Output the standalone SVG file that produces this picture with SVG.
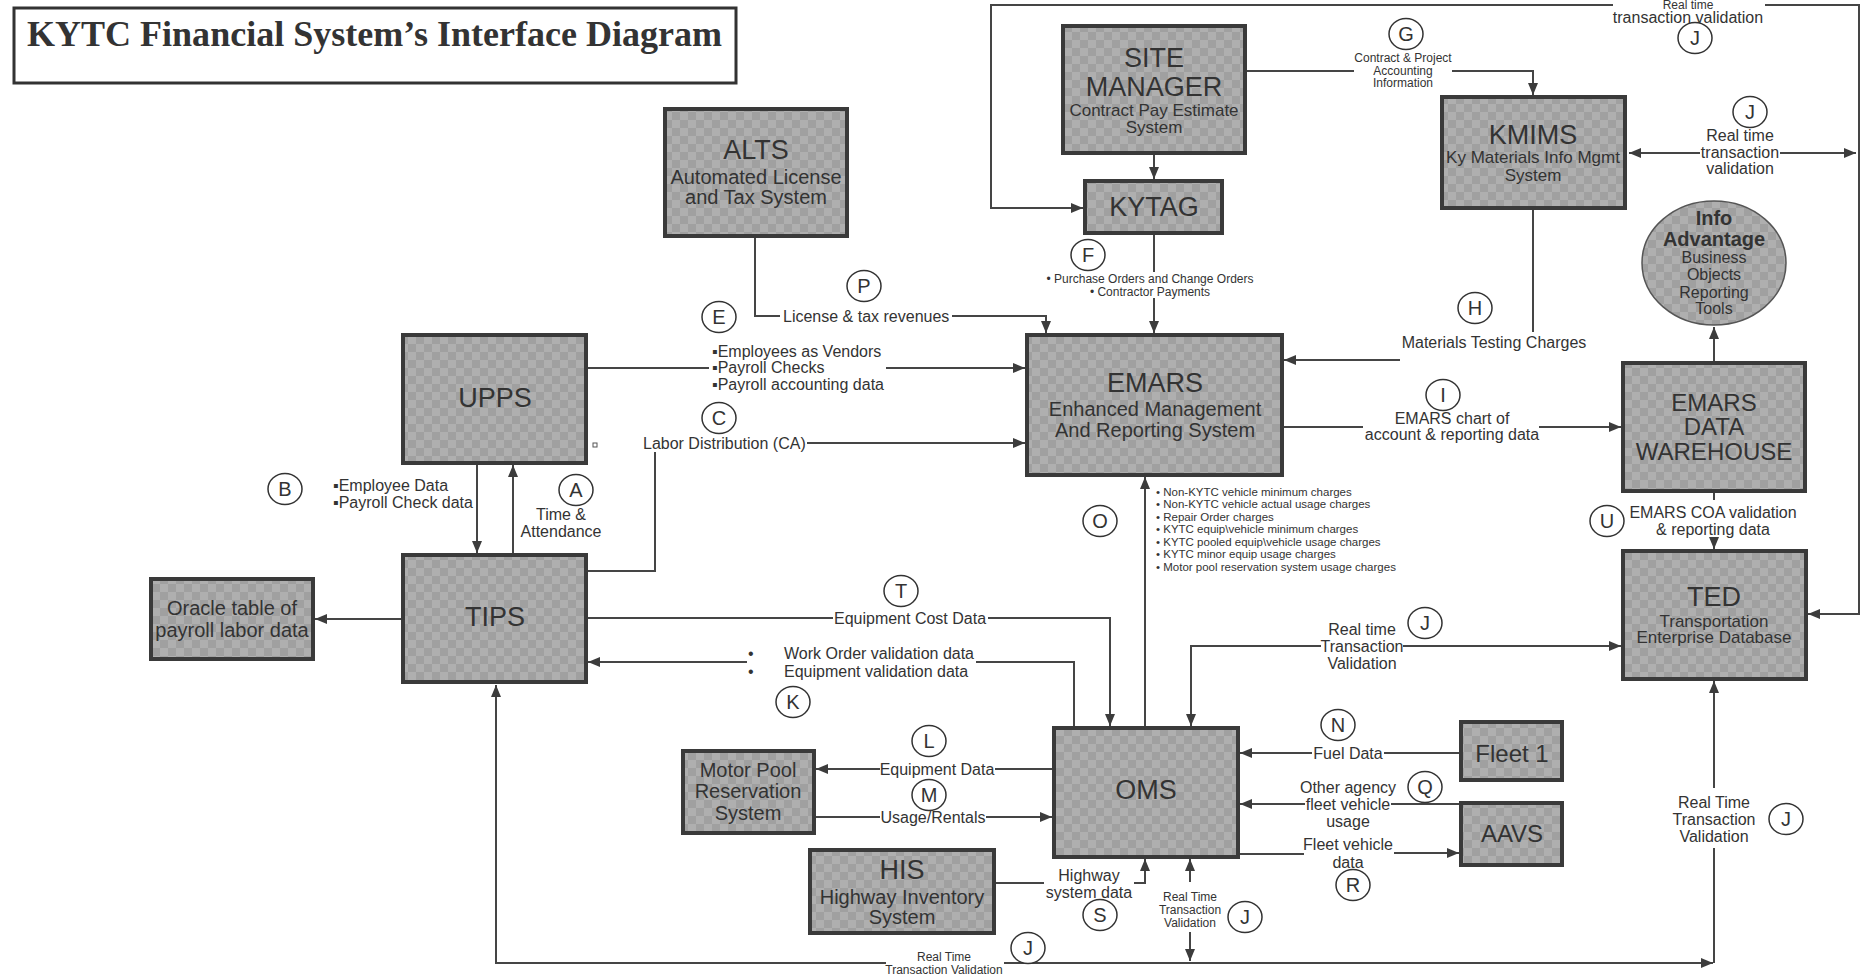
<svg xmlns="http://www.w3.org/2000/svg" width="1868" height="979" viewBox="0 0 1868 979">
<defs>
<pattern id="chk" width="16" height="16" patternUnits="userSpaceOnUse">
<rect width="16" height="16" fill="#afafaf"/>
<rect width="8" height="8" fill="#a0a0a0"/>
<rect x="8" y="8" width="8" height="8" fill="#a0a0a0"/>
</pattern>
<marker id="ah" viewBox="0 0 12 10" refX="12" refY="5" markerWidth="12" markerHeight="10" markerUnits="userSpaceOnUse" orient="auto-start-reverse">
<path d="M0,0 L12,5 L0,10 z" fill="#3c3c3c"/>
</marker>
<style>
.box{fill:url(#chk);stroke:#3a3a3a;stroke-width:4}
.ell{fill:url(#chk);stroke:#555;stroke-width:1.5}
.ln{fill:none;stroke:#454545;stroke-width:2}
.ar{fill:none;stroke:#454545;stroke-width:2;marker-end:url(#ah)}
.cir{fill:#fff;stroke:#333;stroke-width:1.5}
text{font-family:"Liberation Sans",Arial,sans-serif;fill:#333;dominant-baseline:central}
.c{text-anchor:middle}
.t1{font-size:27px}
.t2{font-size:24px}
.t3{font-size:20px}
.t4{font-size:17px}
.l16{font-size:16px}
.l12{font-size:12px}
.l11{font-size:11.5px}
.lt{font-size:20px;text-anchor:middle}
.b{font-weight:bold}
</style>
</defs>
<rect width="1868" height="979" fill="#fff"/>

<g id="title">
<rect x="14" y="8" width="722" height="75" fill="#fff" stroke="#333" stroke-width="3"/>
<text x="27" y="34" style="font-family:'Liberation Serif','Times New Roman',serif;font-weight:bold;font-size:35px" textLength="695" lengthAdjust="spacingAndGlyphs">KYTC Financial System’s Interface Diagram</text>
</g>

<g id="connectors">
<path class="ar" d="M1613,5 H991 V208 H1083"/>
<path class="ar" d="M1765,5 H1859 V614 H1808"/>
<path class="ln" d="M1700,153 H1629" style="marker-end:url(#ah)"/>
<path class="ar" d="M1780,153 H1856"/>
<path class="ar" d="M1154,153 V179"/>
<path class="ln" d="M1245,71 H1354"/>
<path class="ar" d="M1452,71 H1533 V95"/>
<path class="ln" d="M1154,233 V272"/>
<path class="ar" d="M1154,298 V333"/>
<path class="ln" d="M755,236 V316 H780"/>
<path class="ar" d="M952,316 H1046 V333"/>
<path class="ln" d="M586,368 H709"/>
<path class="ar" d="M886,368 H1025"/>
<path class="ln" d="M586,571 H655 V452"/>
<path class="ar" d="M807,443 H1025"/>
<path class="ar" d="M477,463 V553"/>
<path class="ar" d="M513,555 V465"/>
<path class="ar" d="M403,619 H315"/>
<path class="ln" d="M586,618 H833"/>
<path class="ar" d="M988,618 H1110 V726"/>
<path class="ln" d="M1074,728 V662 H976"/>
<path class="ar" d="M747,662 H588"/>
<path class="ar" d="M1145,728 V477"/>
<path class="ar" d="M1321,646 H1191 V726"/>
<path class="ar" d="M1403,646 H1621"/>
<path class="ln" d="M1461,753 H1384"/>
<path class="ar" d="M1312,753 H1240"/>
<path class="ln" d="M1461,804 H1391"/>
<path class="ar" d="M1305,804 H1240"/>
<path class="ln" d="M1238,854 H1304"/>
<path class="ar" d="M1394,853 H1459"/>
<path class="ln" d="M1054,769 H995"/>
<path class="ar" d="M880,769 H816"/>
<path class="ln" d="M814,817 H880"/>
<path class="ar" d="M986,817 H1052"/>
<path class="ln" d="M994,883 H1044"/>
<path class="ar" d="M1134,883 H1145 V859"/>
<path class="ar" d="M1190,882 V859"/>
<path class="ar" d="M1190,932 V961"/>
<path class="ar" d="M886,963 H496 V685"/>
<path class="ar" d="M1004,963 H1713"/>
<path class="ln" d="M1714,963 V848"/>
<path class="ar" d="M1714,788 V681"/>
<path class="ar" d="M1714,363 V327"/>
<path class="ln" d="M1282,427 H1363"/>
<path class="ar" d="M1539,427 H1621"/>
<path class="ln" d="M1533,208 V332"/>
<path class="ar" d="M1400,360 H1284"/>
<path class="ln" d="M1714,491 V500"/>
<path class="ar" d="M1714,538 V549"/>
<rect x="593" y="443" width="4" height="4" fill="none" stroke="#555" stroke-width="1"/>
</g>

<g id="labels">
<text class="l12 c" x="1688" y="5">Real time</text>
<text class="l16 c" x="1688" y="17">transaction validation</text>
<text class="l12 c" x="1403" y="58">Contract &amp; Project</text>
<text class="l12 c" x="1403" y="71">Accounting</text>
<text class="l12 c" x="1403" y="83">Information</text>
<text class="l16 c" x="1740" y="135">Real time</text>
<text class="l16 c" x="1740" y="152">transaction</text>
<text class="l16 c" x="1740" y="168">validation</text>
<text class="l12 c" x="1150" y="279">• Purchase Orders and Change Orders</text>
<text class="l12 c" x="1150" y="292">• Contractor Payments</text>
<text class="l16" x="783" y="316">License &amp; tax revenues</text>
<text class="l16" x="712" y="351">▪Employees as Vendors</text>
<text class="l16" x="712" y="367">▪Payroll Checks</text>
<text class="l16" x="712" y="384">▪Payroll accounting data</text>
<text class="l16 c" x="1494" y="342">Materials Testing Charges</text>
<text class="l16" x="643" y="443">Labor Distribution (CA)</text>
<text class="l16 c" x="1452" y="418">EMARS chart of</text>
<text class="l16 c" x="1452" y="434">account &amp; reporting data</text>
<text class="l16" x="333" y="485">▪Employee Data</text>
<text class="l16" x="333" y="502">▪Payroll Check data</text>
<text class="l16 c" x="561" y="514">Time &amp;</text>
<text class="l16 c" x="561" y="531">Attendance</text>
<text class="l11" x="1156" y="492">• Non-KYTC vehicle minimum charges</text>
<text class="l11" x="1156" y="504">• Non-KYTC vehicle actual usage charges</text>
<text class="l11" x="1156" y="517">• Repair Order charges</text>
<text class="l11" x="1156" y="529">• KYTC equip\vehicle minimum charges</text>
<text class="l11" x="1156" y="542">• KYTC pooled equip\vehicle usage charges</text>
<text class="l11" x="1156" y="554">• KYTC minor equip usage charges</text>
<text class="l11" x="1156" y="567">• Motor pool reservation system usage charges</text>
<text class="l16 c" x="1713" y="512">EMARS COA validation</text>
<text class="l16 c" x="1713" y="529">&amp; reporting data</text>
<text class="l16 c" x="910" y="618">Equipment Cost Data</text>
<text class="l16" x="748" y="653">•</text>
<text class="l16" x="748" y="671">•</text>
<text class="l16" x="784" y="653">Work Order validation data</text>
<text class="l16" x="784" y="671">Equipment validation data</text>
<text class="l16 c" x="1362" y="629">Real time</text>
<text class="l16 c" x="1362" y="646">Transaction</text>
<text class="l16 c" x="1362" y="663">Validation</text>
<text class="l16 c" x="937" y="769">Equipment Data</text>
<text class="l16 c" x="1348" y="753">Fuel Data</text>
<text class="l16 c" x="1348" y="787">Other agency</text>
<text class="l16 c" x="1348" y="804">fleet vehicle</text>
<text class="l16 c" x="1348" y="821">usage</text>
<text class="l16 c" x="933" y="817">Usage/Rentals</text>
<text class="l16 c" x="1714" y="802">Real Time</text>
<text class="l16 c" x="1714" y="819">Transaction</text>
<text class="l16 c" x="1714" y="836">Validation</text>
<text class="l16 c" x="1348" y="844">Fleet vehicle</text>
<text class="l16 c" x="1348" y="862">data</text>
<text class="l16 c" x="1089" y="875">Highway</text>
<text class="l16 c" x="1089" y="892">system data</text>
<text class="l12 c" x="1190" y="897">Real Time</text>
<text class="l12 c" x="1190" y="910">Transaction</text>
<text class="l12 c" x="1190" y="923">Validation</text>
<text class="l12 c" x="944" y="957">Real Time</text>
<text class="l12 c" x="944" y="970">Transaction Validation</text>
</g>

<g id="markers">
<ellipse class="cir" cx="1695" cy="38" rx="17" ry="15.5"/><text class="lt" x="1695" y="38">J</text>
<ellipse class="cir" cx="1406" cy="34" rx="17" ry="15.5"/><text class="lt" x="1406" y="34">G</text>
<ellipse class="cir" cx="1750" cy="112" rx="17" ry="15.5"/><text class="lt" x="1750" y="112">J</text>
<ellipse class="cir" cx="1088" cy="255" rx="17" ry="15.5"/><text class="lt" x="1088" y="255">F</text>
<ellipse class="cir" cx="864" cy="286" rx="17" ry="15.5"/><text class="lt" x="864" y="286">P</text>
<ellipse class="cir" cx="719" cy="317" rx="17" ry="15.5"/><text class="lt" x="719" y="317">E</text>
<ellipse class="cir" cx="1475" cy="308" rx="17" ry="15.5"/><text class="lt" x="1475" y="308">H</text>
<ellipse class="cir" cx="719" cy="418" rx="17" ry="15.5"/><text class="lt" x="719" y="418">C</text>
<ellipse class="cir" cx="1443" cy="395" rx="17" ry="15.5"/><text class="lt" x="1443" y="395">I</text>
<ellipse class="cir" cx="285" cy="489" rx="17" ry="15.5"/><text class="lt" x="285" y="489">B</text>
<ellipse class="cir" cx="576" cy="490" rx="17" ry="15.5"/><text class="lt" x="576" y="490">A</text>
<ellipse class="cir" cx="1100" cy="521" rx="17" ry="15.5"/><text class="lt" x="1100" y="521">O</text>
<ellipse class="cir" cx="1607" cy="521" rx="17" ry="15.5"/><text class="lt" x="1607" y="521">U</text>
<ellipse class="cir" cx="901" cy="591" rx="17" ry="15.5"/><text class="lt" x="901" y="591">T</text>
<ellipse class="cir" cx="793" cy="702" rx="17" ry="15.5"/><text class="lt" x="793" y="702">K</text>
<ellipse class="cir" cx="1425" cy="623" rx="17" ry="15.5"/><text class="lt" x="1425" y="623">J</text>
<ellipse class="cir" cx="929" cy="741" rx="17" ry="15.5"/><text class="lt" x="929" y="741">L</text>
<ellipse class="cir" cx="1338" cy="725" rx="17" ry="15.5"/><text class="lt" x="1338" y="725">N</text>
<ellipse class="cir" cx="1425" cy="787" rx="17" ry="15.5"/><text class="lt" x="1425" y="787">Q</text>
<ellipse class="cir" cx="929" cy="795" rx="17" ry="15.5"/><text class="lt" x="929" y="795">M</text>
<ellipse class="cir" cx="1786" cy="819" rx="17" ry="15.5"/><text class="lt" x="1786" y="819">J</text>
<ellipse class="cir" cx="1353" cy="885" rx="17" ry="15.5"/><text class="lt" x="1353" y="885">R</text>
<ellipse class="cir" cx="1100" cy="915" rx="17" ry="15.5"/><text class="lt" x="1100" y="915">S</text>
<ellipse class="cir" cx="1245" cy="917" rx="17" ry="15.5"/><text class="lt" x="1245" y="917">J</text>
<ellipse class="cir" cx="1028" cy="948" rx="17" ry="15.5"/><text class="lt" x="1028" y="948">J</text>
</g>

<g id="node-alts">
<rect class="box" x="665" y="109" width="182" height="127"/>
<text class="t1 c" x="756" y="150">ALTS</text>
<text class="t3 c" x="756" y="177">Automated License</text>
<text class="t3 c" x="756" y="197">and Tax System</text>
</g>
<g id="node-sitemanager">
<rect class="box" x="1063" y="26" width="182" height="127"/>
<text class="t1 c" x="1154" y="58">SITE</text>
<text class="t1 c" x="1154" y="87">MANAGER</text>
<text class="t4 c" x="1154" y="110">Contract Pay Estimate</text>
<text class="t4 c" x="1154" y="127">System</text>
</g>
<g id="node-kytag">
<rect class="box" x="1085" y="181" width="137" height="52"/>
<text class="t1 c" x="1154" y="207">KYTAG</text>
</g>
<g id="node-kmims">
<rect class="box" x="1442" y="97" width="183" height="111"/>
<text class="t1 c" x="1533" y="135">KMIMS</text>
<text class="t4 c" x="1533" y="157">Ky Materials Info Mgmt</text>
<text class="t4 c" x="1533" y="175">System</text>
</g>
<g id="node-infoadvantage">
<ellipse class="ell" cx="1714" cy="263" rx="72" ry="62"/>
<text class="t3 c b" x="1714" y="218">Info</text>
<text class="t3 c b" x="1714" y="239">Advantage</text>
<text class="l16 c" x="1714" y="257">Business</text>
<text class="l16 c" x="1714" y="274">Objects</text>
<text class="l16 c" x="1714" y="292">Reporting</text>
<text class="l16 c" x="1714" y="308">Tools</text>
</g>
<g id="node-upps">
<rect class="box" x="403" y="335" width="183" height="128"/>
<text class="t1 c" x="495" y="398">UPPS</text>
</g>
<g id="node-tips">
<rect class="box" x="403" y="555" width="183" height="127"/>
<text class="t1 c" x="495" y="617">TIPS</text>
</g>
<g id="node-oracle">
<rect class="box" x="151" y="579" width="162" height="80"/>
<text class="t3 c" x="232" y="608">Oracle table of</text>
<text class="t3 c" x="232" y="630">payroll labor data</text>
</g>
<g id="node-emars">
<rect class="box" x="1027" y="335" width="255" height="140"/>
<text class="t1 c" x="1155" y="383">EMARS</text>
<text class="t3 c" x="1155" y="409">Enhanced Management</text>
<text class="t3 c" x="1155" y="430">And Reporting System</text>
</g>
<g id="node-datawarehouse">
<rect class="box" x="1623" y="363" width="182" height="128"/>
<text class="t2 c" x="1714" y="402">EMARS</text>
<text class="t2 c" x="1714" y="426">DATA</text>
<text class="t2 c" x="1714" y="451">WAREHOUSE</text>
</g>
<g id="node-ted">
<rect class="box" x="1623" y="551" width="183" height="128"/>
<text class="t1 c" x="1714" y="597">TED</text>
<text class="t4 c" x="1714" y="621">Transportation</text>
<text class="t4 c" x="1714" y="637">Enterprise Database</text>
</g>
<g id="node-oms">
<rect class="box" x="1054" y="728" width="184" height="129"/>
<text class="t1 c" x="1146" y="790">OMS</text>
</g>
<g id="node-fleet1">
<rect class="box" x="1461" y="722" width="101" height="58"/>
<text class="t2 c" x="1512" y="753">Fleet 1</text>
</g>
<g id="node-aavs">
<rect class="box" x="1461" y="803" width="101" height="62"/>
<text class="t2 c" x="1512" y="833">AAVS</text>
</g>
<g id="node-motorpool">
<rect class="box" x="683" y="751" width="131" height="82"/>
<text class="t3 c" x="748" y="770">Motor Pool</text>
<text class="t3 c" x="748" y="791">Reservation</text>
<text class="t3 c" x="748" y="813">System</text>
</g>
<g id="node-his">
<rect class="box" x="810" y="850" width="184" height="83"/>
<text class="t1 c" x="902" y="870">HIS</text>
<text class="t3 c" x="902" y="897">Highway Inventory</text>
<text class="t3 c" x="902" y="917">System</text>
</g>
</svg>
